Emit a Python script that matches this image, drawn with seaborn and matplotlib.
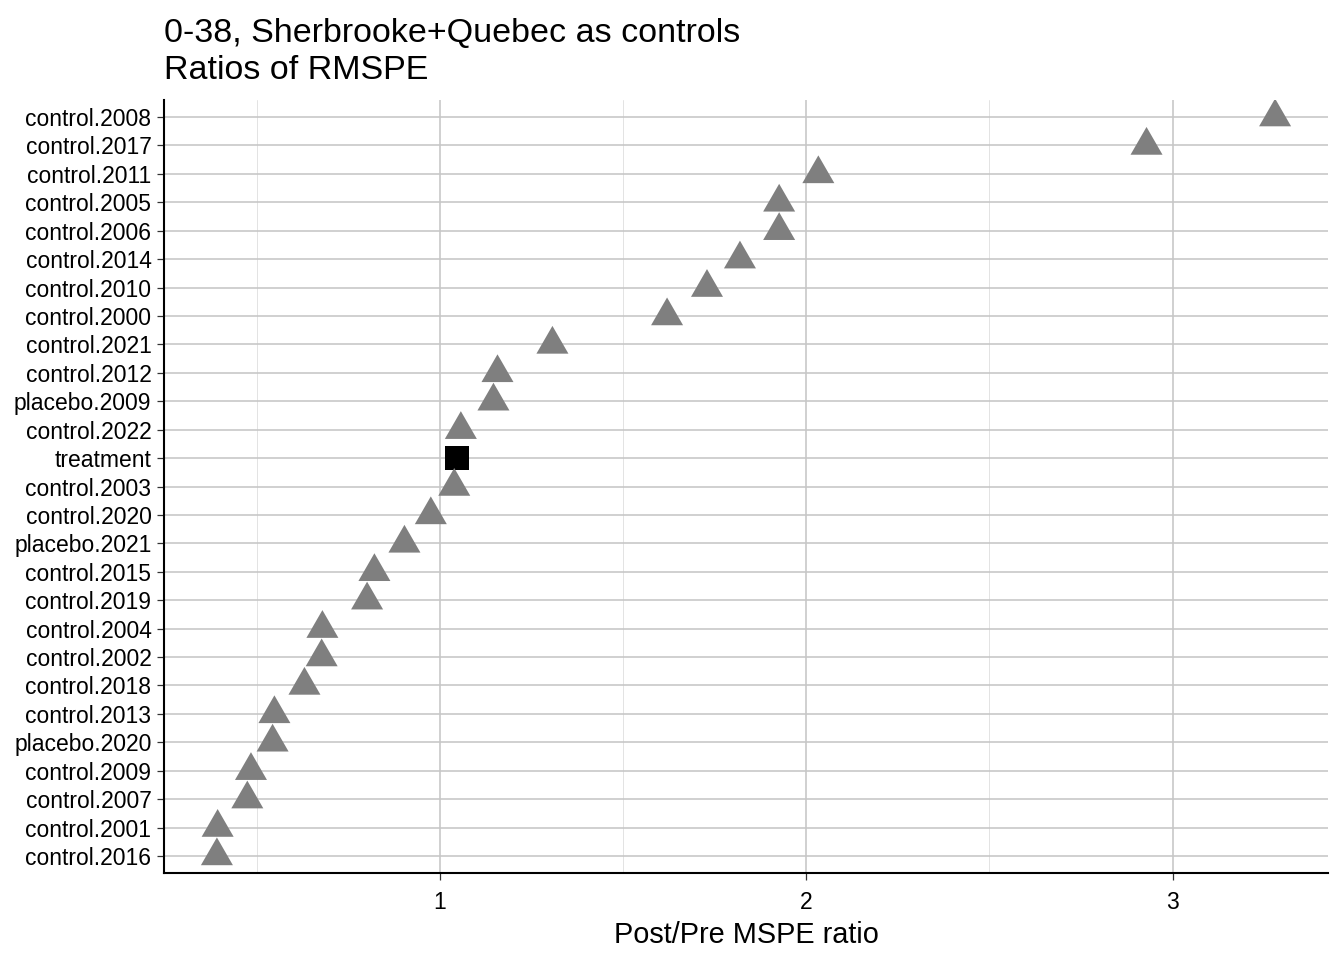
import pandas as pd
import matplotlib.pyplot as plt
import seaborn as sns
from matplotlib.ticker import MultipleLocator

units = ['control.2008', 'control.2017', 'control.2011', 'control.2005', 'control.2006',
         'control.2014', 'control.2010', 'control.2000', 'control.2021', 'control.2012',
         'placebo.2009', 'control.2022', 'treatment', 'control.2003', 'control.2020',
         'placebo.2021', 'control.2015', 'control.2019', 'control.2004', 'control.2002',
         'control.2018', 'control.2013', 'placebo.2020', 'control.2009', 'control.2007',
         'control.2001', 'control.2016']
ratios = [3.280, 2.929, 2.033, 1.926, 1.926, 1.819, 1.729, 1.620, 1.307, 1.157,
          1.146, 1.057, 1.046, 1.039, 0.975, 0.903, 0.821, 0.801, 0.679, 0.677,
          0.630, 0.548, 0.543, 0.484, 0.474, 0.393, 0.391]
x_ticks = [1, 2, 3]

df = pd.DataFrame({'unit': units, 'ratio': ratios})
df['kind'] = ['treated' if u == 'treatment' else 'donor' for u in units]

sns.set_style('white')
plt.rcParams['font.family'] = ['Liberation Sans', 'DejaVu Sans']

fig = plt.figure(figsize=(13.44, 9.6), dpi=100)
ax = fig.add_axes([164 / 1344, 1 - 873 / 960, (1328 - 164) / 1344, (873 - 100) / 960])

# ggplot-like filled triangle, centred on its centroid
tri = [(0, 18.5), (-16, -9.25), (16, -9.25), (0, 18.5)]
sns.scatterplot(data=df, x='ratio', y='unit', hue='kind', style='kind', size='kind',
                palette={'donor': '#7f7f7f', 'treated': '#000000'},
                markers={'donor': tri, 'treated': 's'},
                sizes={'donor': 710, 'treated': 298},
                linewidth=0, legend=False, ax=ax, zorder=3)

lo, hi = min(ratios), max(ratios)
pad = 0.05 * (hi - lo)
ax.set_xlim(lo - pad, hi + pad)
ax.set_ylim(len(units) - 0.4, -0.6)

ax.set_xticks(x_ticks)
ax.set_xticklabels([str(t) for t in x_ticks])
ax.xaxis.set_minor_locator(MultipleLocator(0.5))
ax.set_axisbelow(True)
ax.grid(which='minor', axis='x', color='#e3e3e3', linewidth=0.7)
ax.grid(which='major', axis='both', color='#c6c6c6', linewidth=1.15)

for s in ['top', 'right']:
    ax.spines[s].set_visible(False)
for s in ['left', 'bottom']:
    ax.spines[s].set_color('black')
    ax.spines[s].set_linewidth(1.5)

ax.tick_params(axis='both', which='major', length=5, width=0.9, color='#333333',
               labelsize=16.5, labelcolor='black', left=True, bottom=True)
ax.tick_params(axis='y', which='major', pad=4)
ax.tick_params(axis='x', which='major', pad=8)
ax.tick_params(axis='x', which='minor', length=0)

ax.set_xlabel('Post/Pre MSPE ratio', fontsize=20.8, color='black', labelpad=5)
ax.set_ylabel('')

fig.text(164 / 1344, 1 - 42 / 960, '0-38, Sherbrooke+Quebec as controls',
         fontsize=24.5, ha='left', va='baseline', color='black')
fig.text(164 / 1344, 1 - 79 / 960, 'Ratios of RMSPE',
         fontsize=24.5, ha='left', va='baseline', color='black')

fig.savefig('out.png', dpi=100)
